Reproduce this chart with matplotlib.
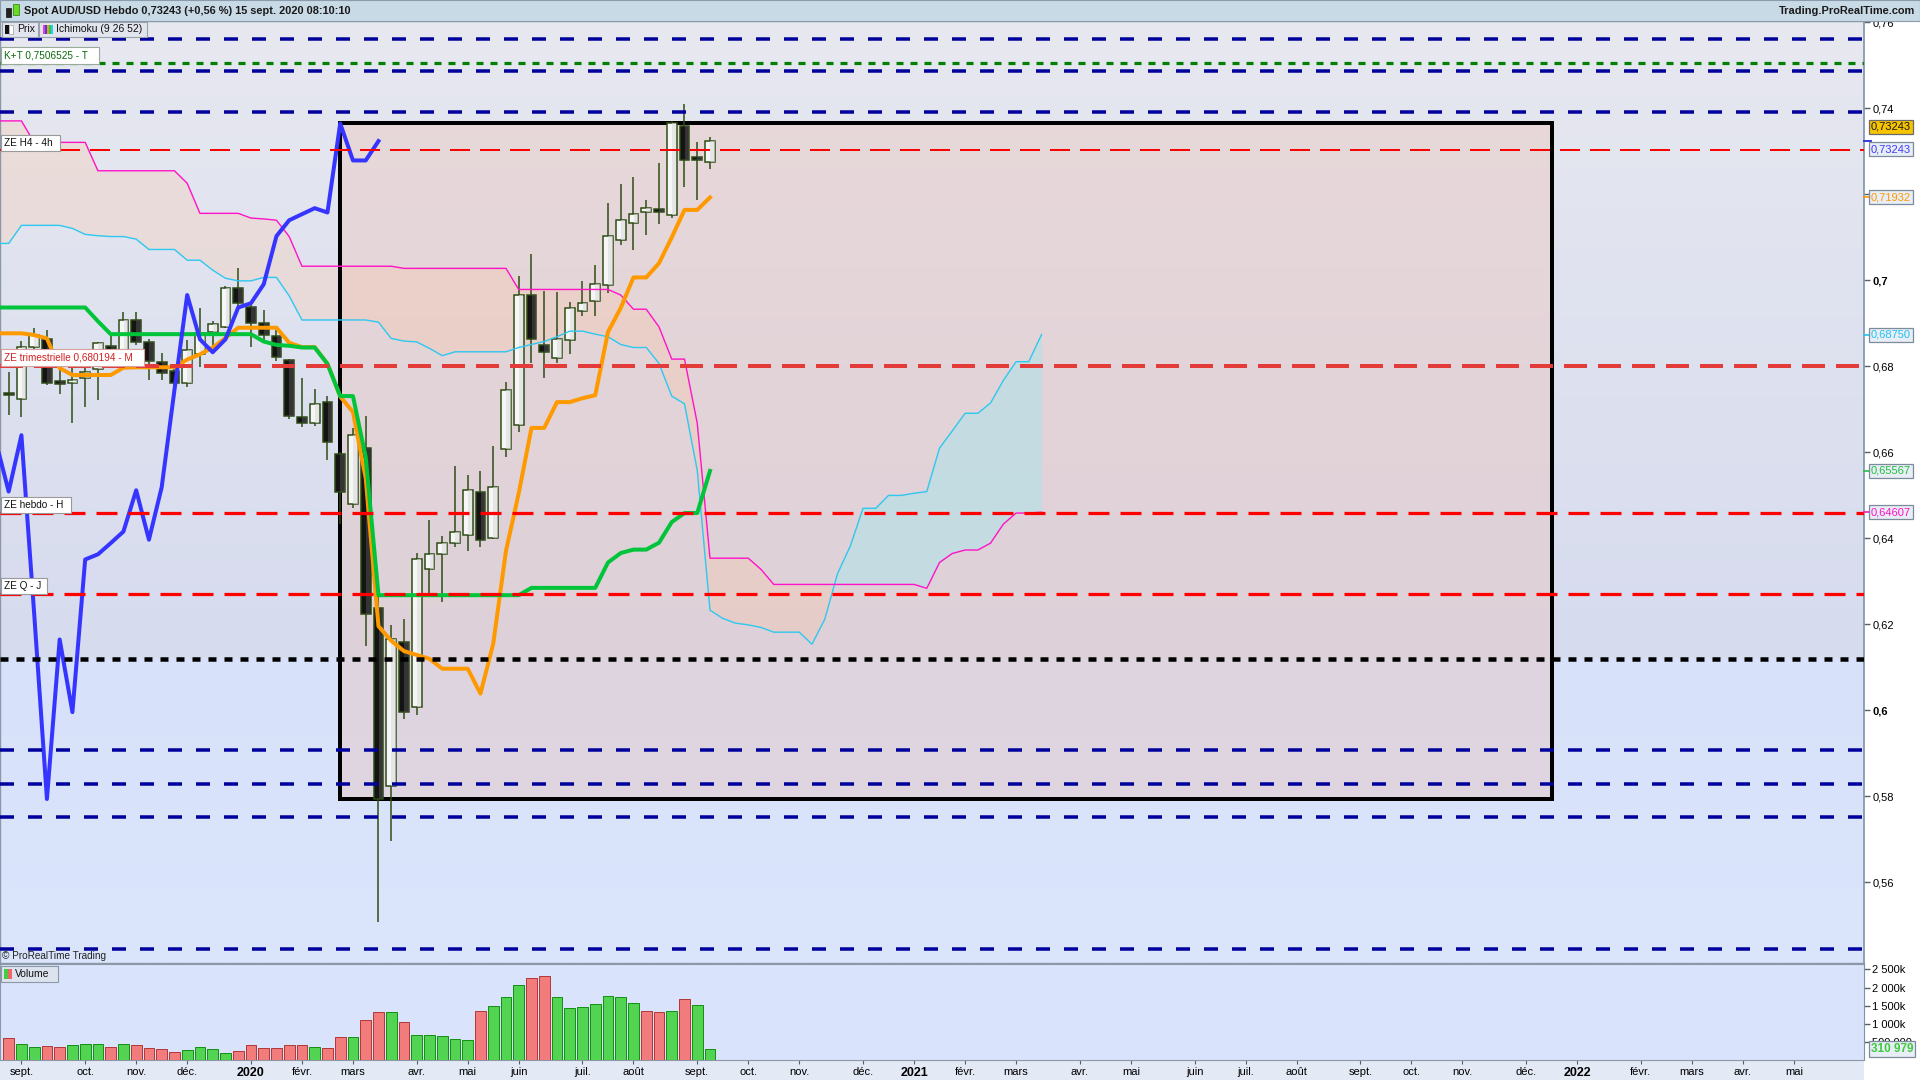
import numpy as np
import pandas as pd
import matplotlib
matplotlib.use('Agg')
import matplotlib.pyplot as plt
from matplotlib.patches import Rectangle
import matplotlib.transforms as mtransforms

plt.rcParams['font.family'] = ['Liberation Sans', 'DejaVu Sans']

# ---------------- DATA (weekly AUD/USD, week 0 = 26 Aug 2019) ----------------
open_ = [0.6738, 0.6724, 0.6845, 0.6863, 0.6765, 0.6762, 0.6772, 0.6793, 0.6847, 0.6817,
         0.6909, 0.6856, 0.6810, 0.6789, 0.6761, 0.6830, 0.6879, 0.6892, 0.6982, 0.6939,
         0.6900, 0.6871, 0.6815, 0.6682, 0.6669, 0.6717, 0.6596, 0.6479, 0.6610, 0.6239,
         0.5824, 0.6158, 0.6008, 0.6328, 0.6363, 0.6390, 0.6408, 0.6508, 0.6402, 0.6607,
         0.6663, 0.6965, 0.6849, 0.6819, 0.6861, 0.6928, 0.6951, 0.6989, 0.7093, 0.7133,
         0.7158, 0.7165, 0.7151, 0.7359, 0.7286, 0.7275]
high_ = [0.6788, 0.6860, 0.6890, 0.6885, 0.6799, 0.6808, 0.6803, 0.6857, 0.6870, 0.6927,
         0.6927, 0.6863, 0.6832, 0.6799, 0.6861, 0.6936, 0.6906, 0.6986, 0.7028, 0.6950,
         0.6931, 0.6885, 0.6817, 0.6772, 0.6747, 0.6731, 0.6602, 0.6656, 0.6685, 0.6306,
         0.6198, 0.6212, 0.6366, 0.6443, 0.6405, 0.6568, 0.6547, 0.6557, 0.6615, 0.6763,
         0.7010, 0.7061, 0.6975, 0.6973, 0.6950, 0.6999, 0.7036, 0.7180, 0.7224, 0.7240,
         0.7187, 0.7273, 0.7370, 0.7410, 0.7322, 0.7334]
low_ = [0.6687, 0.6683, 0.6836, 0.6757, 0.6737, 0.6668, 0.6706, 0.6722, 0.6800, 0.6810,
        0.6850, 0.6768, 0.6768, 0.6755, 0.6751, 0.6799, 0.6838, 0.6890, 0.6940, 0.6846,
        0.6861, 0.6813, 0.6678, 0.6660, 0.6662, 0.6582, 0.6434, 0.6470, 0.6150, 0.5508,
        0.5697, 0.5980, 0.5990, 0.6264, 0.6252, 0.6380, 0.6371, 0.6380, 0.6399, 0.6589,
        0.6647, 0.6807, 0.6774, 0.6807, 0.6830, 0.6918, 0.6918, 0.6970, 0.7083, 0.7071,
        0.7106, 0.7132, 0.7146, 0.7218, 0.7188, 0.7260]
close_ = [0.6733, 0.6846, 0.6873, 0.6762, 0.6760, 0.6768, 0.6788, 0.6854, 0.6817, 0.6909,
          0.6857, 0.6813, 0.6784, 0.6761, 0.6838, 0.6877, 0.6898, 0.6982, 0.6947, 0.6900,
          0.6873, 0.6823, 0.6685, 0.6669, 0.6713, 0.6625, 0.6509, 0.6640, 0.6225, 0.5794,
          0.6165, 0.5996, 0.6351, 0.6363, 0.6389, 0.6416, 0.6512, 0.6397, 0.6519, 0.6745,
          0.6966, 0.6863, 0.6833, 0.6863, 0.6937, 0.6947, 0.6991, 0.7103, 0.7140, 0.7154,
          0.7168, 0.7158, 0.7365, 0.7279, 0.7279, 0.7324]
volume_k = [604, 444, 364, 391, 364, 418, 444, 444, 364, 444,
            418, 338, 311, 231, 284, 364, 311, 204, 258, 418,
            338, 338, 418, 418, 364, 338, 631, 631, 1111, 1324,
            1324, 1057, 684, 684, 657, 578, 551, 1351, 1484, 1750,
            2070, 2257, 2310, 1750, 1430, 1457, 1537, 1777, 1750, 1564,
            1351, 1324, 1351, 1697, 1510, 310.979]
volume_up = [0, 1, 1, 0, 0, 1, 1, 1, 0, 1,
             0, 0, 0, 0, 1, 1, 1, 1, 0, 0,
             0, 0, 0, 0, 1, 0, 0, 1, 0, 0,
             1, 0, 1, 1, 1, 1, 1, 0, 1, 1,
             1, 0, 0, 1, 1, 1, 1, 1, 1, 1,
             0, 0, 1, 0, 1, 1]

# Ichimoku (9 26 52) - weeks -1..55
tenkan = [0.6877, 0.6877, 0.6877, 0.6873, 0.6865, 0.6796, 0.6780, 0.6780, 0.6780, 0.6780,
          0.6797, 0.6798, 0.6798, 0.6798, 0.6798, 0.6816, 0.6828, 0.6844, 0.6866, 0.6890,
          0.6890, 0.6890, 0.6890, 0.6855, 0.6845, 0.6845, 0.6806, 0.6730, 0.6694, 0.6540,
          0.6196, 0.6162, 0.6138, 0.6129, 0.6120, 0.6097, 0.6097, 0.6097, 0.6039, 0.6155,
          0.6371, 0.6505, 0.6657, 0.6657, 0.6717, 0.6717, 0.6726, 0.6733, 0.6880, 0.6936,
          0.7007, 0.7007, 0.7040, 0.7100, 0.7164, 0.7164, 0.7193]
kijun = [0.6937, 0.6937, 0.6937, 0.6937, 0.6937, 0.6937, 0.6937, 0.6937, 0.6905, 0.6875,
         0.6875, 0.6875, 0.6875, 0.6875, 0.6875, 0.6875, 0.6875, 0.6875, 0.6875, 0.6875,
         0.6875, 0.6858, 0.6850, 0.6848, 0.6844, 0.6844, 0.6806, 0.6731, 0.6731, 0.6589,
         0.6268, 0.6268, 0.6268, 0.6268, 0.6268, 0.6268, 0.6268, 0.6268, 0.6268, 0.6268,
         0.6268, 0.6268, 0.6285, 0.6285, 0.6285, 0.6285, 0.6285, 0.6285, 0.6344, 0.6366,
         0.6374, 0.6374, 0.6390, 0.6438, 0.6459, 0.6459, 0.6557]
# Senkou spans, plotted positions -1..81
senkou_a = [0.7086, 0.7086, 0.7128, 0.7128, 0.7128, 0.7128, 0.7121, 0.7107, 0.7104, 0.7102,
            0.7102, 0.7096, 0.7072, 0.7072, 0.7072, 0.7047, 0.7047, 0.7024, 0.7005, 0.6999,
            0.6999, 0.7007, 0.7007, 0.6964, 0.6908, 0.6908, 0.6908, 0.6908, 0.6908, 0.6908,
            0.6903, 0.6865, 0.6859, 0.6857, 0.6842, 0.6825, 0.6834, 0.6834, 0.6834, 0.6834,
            0.6834, 0.6844, 0.6851, 0.6858, 0.6869, 0.6882, 0.6882, 0.6875, 0.6869, 0.6851,
            0.6844, 0.6844, 0.6807, 0.6731, 0.6713, 0.6558, 0.6233, 0.6214, 0.6203, 0.6199,
            0.6193, 0.6182, 0.6182, 0.6182, 0.6154, 0.6212, 0.6318, 0.6382, 0.6470, 0.6470,
            0.6500, 0.6500, 0.6505, 0.6509, 0.6610, 0.6650, 0.6691, 0.6691, 0.6715, 0.6767,
            0.6811, 0.6811, 0.6874]
senkou_b = [0.7371, 0.7371, 0.7371, 0.7321, 0.7321, 0.7321, 0.7321, 0.7321, 0.7255, 0.7255,
            0.7255, 0.7255, 0.7255, 0.7255, 0.7255, 0.7226, 0.7156, 0.7156, 0.7156, 0.7156,
            0.7145, 0.7143, 0.7140, 0.7102, 0.7033, 0.7033, 0.7033, 0.7033, 0.7033, 0.7033,
            0.7033, 0.7033, 0.7028, 0.7028, 0.7028, 0.7028, 0.7028, 0.7028, 0.7028, 0.7028,
            0.7028, 0.6979, 0.6979, 0.6979, 0.6979, 0.6979, 0.6979, 0.6979, 0.6979, 0.6966,
            0.6933, 0.6933, 0.6892, 0.6817, 0.6817, 0.6668, 0.6354, 0.6354, 0.6354, 0.6354,
            0.6328, 0.6293, 0.6293, 0.6293, 0.6293, 0.6293, 0.6293, 0.6293, 0.6293, 0.6293,
            0.6293, 0.6293, 0.6293, 0.6284, 0.6344, 0.6365, 0.6373, 0.6373, 0.6389, 0.6433,
            0.6459, 0.6459, 0.6461]

# Horizontal levels
blue_levels = [0.7561, 0.7487, 0.7392, 0.5908, 0.5828, 0.5752, 0.5445]
kt_level = 0.7506525
ze_h4 = 0.7303
ze_trim = 0.680194
ze_hebdo = 0.6459
ze_q = 0.6270
black_level = 0.6120
zone_box = (26, 121, 0.5794, 0.7365)  # x0, x1, y0, y1

first_week = '2019-08-26'
months_fr = ['janv.', 'févr.', 'mars', 'avr.', 'mai', 'juin', 'juil.', 'août',
             'sept.', 'oct.', 'nov.', 'déc.']

# ---------------- FIGURE ----------------
W, H = 1920, 1080
fig = plt.figure(figsize=(19.2, 10.8), dpi=100, facecolor='white')

def fy(py):
    return 1 - py / H

PANEL_R = 1864
ax = fig.add_axes([0, fy(963), PANEL_R / W, (963 - 21) / H])
axv = fig.add_axes([0, fy(1060), PANEL_R / W, (1060 - 964) / H], sharex=ax)

XMIN, XMAX = -0.68, 145.5
YMIN, YMAX = 0.54126, 0.76033

def dash(on_px, off_px, lw_px):
    return (0, (on_px / lw_px, off_px / lw_px))

PX = 0.72  # points per pixel

# background gradients
ax.set_facecolor('#d9e3fb')
top_c = np.array([0xe7, 0xe8, 0xf0]) / 255
mid_c = np.array([0xd6, 0xdb, 0xee]) / 255
g = np.linspace(0, 1, 200)[:, None]
grad = (top_c[None, :] * (1 - g) + mid_c[None, :] * g)[:, None, :]
ax.imshow(grad, extent=(XMIN, XMAX, black_level, YMAX), aspect='auto', zorder=0,
          interpolation='bilinear')
low_top = np.array([0xd7, 0xe1, 0xf9]) / 255
low_bot = np.array([0xdb, 0xe5, 0xfc]) / 255
grad2 = (low_top[None, :] * (1 - g) + low_bot[None, :] * g)[:, None, :]
ax.imshow(grad2, extent=(XMIN, XMAX, YMIN, black_level), aspect='auto', zorder=0,
          interpolation='bilinear')

# zone box fill
bx0, bx1, by0, by1 = zone_box
ax.add_patch(Rectangle((bx0, by0), bx1 - bx0, by1 - by0, facecolor='#f0b8a8', alpha=0.30,
                       edgecolor='none', zorder=1))

# cloud
jx = np.arange(-1, -1 + len(senkou_a))
sa = np.array(senkou_a)
sb = np.array(senkou_b)
ax.fill_between(jx, sa, sb, where=sb >= sa, interpolate=True, color='#ffc49a', alpha=0.25,
                lw=0, zorder=2)
ax.fill_between(jx, sa, sb, where=sa > sb, interpolate=True, color='#a8e6ea', alpha=0.5,
                lw=0, zorder=2)

# zone box outline
ax.add_patch(Rectangle((bx0, by0), bx1 - bx0, by1 - by0, fill=False, edgecolor='black',
                       lw=4 * PX, zorder=3))

# candles
o = np.array(open_); c = np.array(close_); hi = np.array(high_); lo = np.array(low_)
x = np.arange(len(c))
up = c >= o
bb = np.minimum(o, c)
bh = np.maximum(np.abs(c - o), 0.0004)
edge = '#2b4a12'
ax.vlines(x, lo, hi, color=edge, lw=1.5 * PX, zorder=4)
ax.bar(x[up], bh[up], bottom=bb[up], width=0.76, color='#f6f6f6', edgecolor=edge,
       lw=1.5 * PX, zorder=5)
ax.bar(x[~up], bh[~up], bottom=bb[~up], width=0.76, color='#141414', edgecolor=edge,
       lw=1.5 * PX, zorder=5)
# subtle shading on the right half of bodies (gradient look)
ax.bar(x[up] + 0.19, bh[up], bottom=bb[up], width=0.36, color='#dcdcdc', alpha=0.6,
       lw=0, zorder=5.5)
ax.bar(x[~up] + 0.19, bh[~up], bottom=bb[~up], width=0.36, color='#4a4a4a', alpha=0.6,
       lw=0, zorder=5.5)

# senkou lines
ax.plot(jx, sa, color='#2ec8f0', lw=1.4 * PX, zorder=6)
ax.plot(jx, sb, color='#ff14c8', lw=1.4 * PX, zorder=6)
# tenkan / kijun
tx = np.arange(-1, -1 + len(tenkan))
ax.plot(tx, tenkan, color='#ff9900', lw=4 * PX, zorder=7, solid_joinstyle='round')
ax.plot(tx, kijun, color='#00c43a', lw=4 * PX, zorder=7, solid_joinstyle='round')
# chikou: closes shifted 26 weeks back
cx = np.arange(25, len(c)) - 26
ax.plot(cx, c[25:], color='#3535ff', lw=4 * PX, zorder=8, solid_joinstyle='round')

# horizontal levels
for lv in blue_levels:
    ax.axhline(lv, color='#00009c', lw=3.5 * PX, linestyle=dash(14, 14, 3.5), zorder=9)
ax.axhline(kt_level, color='#008000', lw=3.2 * PX, linestyle=dash(7, 7, 3.2), zorder=9)
ax.axhline(ze_h4, color='#ff0000', lw=2 * PX, linestyle=dash(20, 10, 2), zorder=9)
ax.axhline(ze_trim, color='#e33a3a', lw=4 * PX, linestyle=dash(23, 11, 4), zorder=9)
ax.axhline(ze_hebdo, color='#ff0000', lw=3.2 * PX, linestyle=dash(21, 11, 3.2), zorder=9)
ax.axhline(ze_q, color='#ff0000', lw=3.2 * PX, linestyle=dash(21, 11, 3.2), zorder=9)
ax.axhline(black_level, color='black', lw=4.5 * PX, linestyle=dash(8, 8, 4.5), zorder=9)

ax.set_xlim(XMIN, XMAX)
ax.set_ylim(YMIN, YMAX)

# right axis ticks
ax.yaxis.tick_right()
yt = [0.56, 0.58, 0.60, 0.62, 0.64, 0.66, 0.68, 0.70, 0.72, 0.74, 0.76]
ylab = ['0,56', '0,58', '0,6', '0,62', '0,64', '0,66', '0,68', '0,7', '', '0,74', '0,76']
ax.set_yticks(yt)
ax.set_yticklabels(ylab, fontsize=8)
for t in ax.get_yticklabels():
    if t.get_text() in ('0,7', '0,6'):
        t.set_fontweight('bold')
ax.tick_params(axis='y', direction='out', length=4, width=1, color='#55606a', pad=2)
ax.tick_params(axis='x', bottom=False, labelbottom=False)
for s in ['top', 'left', 'bottom']:
    ax.spines[s].set_color('#8a98a8')
    ax.spines[s].set_linewidth(1.0)
ax.spines['right'].set_color('#7f93a6')
ax.spines['right'].set_linewidth(1.2)

# right value labels
trans = mtransforms.blended_transform_factory(ax.transAxes, ax.transData)

def rlabel(val, text, color, fc='#e8edf6', ec='#7d8c9c', dy=0, weight='normal'):
    ax.plot([1.0, 1.0035], [val, val], transform=trans, color=color,
            lw=1.2, clip_on=False, zorder=20)
    ax.annotate(text, xy=(1.0038, val), xycoords=trans, xytext=(0, dy), textcoords='offset points',
                color=color, fontsize=8, va='center', ha='left', fontweight=weight,
                bbox=dict(boxstyle='square,pad=0.18', fc=fc, ec=ec, lw=0.9),
                annotation_clip=False, zorder=21)

rlabel(close_[-1], '0,73243', '#1a1a1a', fc='#f7c400', ec='#6a6a6a', dy=10.5)
rlabel(close_[-1], '0,73243', '#3d3dff', dy=-6)
rlabel(tenkan[-1], '0,71932', '#ff9900')
rlabel(senkou_a[-1], '0,68750', '#1ec4f0')
rlabel(kijun[-1], '0,65567', '#22c040')
rlabel(senkou_b[-1], '0,64607', '#ff10c8')

# ---------------- VOLUME ----------------
axv.set_facecolor('#d9e3fb')
vup = np.array(volume_up) == 1
vcol = np.where(vup, '#52d452', '#f27b7b')
vedge = np.where(vup, '#179017', '#b43a3a')
axv.bar(x, volume_k, width=0.84, color=vcol, edgecolor=vedge, lw=1.0 * PX, zorder=3)
axv.set_ylim(0, 2650)
axv.yaxis.tick_right()
axv.set_yticks([500, 1000, 1500, 2000, 2500])
axv.set_yticklabels(['500 000', '1 000k', '1 500k', '2 000k', '2 500k'], fontsize=8)
axv.tick_params(axis='y', direction='out', length=4, width=1, color='#55606a', pad=2)
for s in axv.spines.values():
    s.set_color('#8a98a8')
axv.spines['right'].set_color('#7f93a6')
transv = mtransforms.blended_transform_factory(axv.transAxes, axv.transData)
axv.annotate('310 979', xy=(1.0038, volume_k[-1]), xycoords=transv, color='#3ccc3c',
             fontsize=8.5, fontweight='bold', va='center', ha='left',
             bbox=dict(boxstyle='square,pad=0.15', fc='#e8edf6', ec='#7d8c9c', lw=0.9),
             annotation_clip=False, zorder=21)

# x ticks: first week of each month
wk = np.arange(-1, 146)
dts = pd.Timestamp(first_week) + pd.to_timedelta(7 * wk, unit='D')
tpos, tlab, tbold = [], [], []
for k in range(1, len(wk)):
    if dts[k].month != dts[k - 1].month and wk[k] < 144.5:
        tpos.append(wk[k])
        if dts[k].month == 1:
            tlab.append(str(dts[k].year)); tbold.append(True)
        else:
            tlab.append(months_fr[dts[k].month - 1]); tbold.append(False)
axv.set_xticks(tpos)
axv.set_xticklabels(tlab, fontsize=8)
for t, b in zip(axv.get_xticklabels(), tbold):
    if b:
        t.set_fontweight('bold')
        t.set_fontsize(9)
axv.tick_params(axis='x', direction='out', length=3, color='#55606a', pad=2)
axv.set_xlim(XMIN, XMAX)

# ---------------- DECORATIONS (figure level) ----------------
def frect(x0, y0, x1, y1, fc, ec='none', lw=0.8, z=30):
    fig.patches.append(Rectangle((x0 / W, fy(y1)), (x1 - x0) / W, (y1 - y0) / H,
                                 transform=fig.transFigure, facecolor=fc, edgecolor=ec,
                                 lw=lw, zorder=z))

def ftext(xp, yp, s, color='black', fs=7.5, weight='normal', ha='left', z=31):
    fig.text(xp / W, fy(yp), s, color=color, fontsize=fs, fontweight=weight,
             ha=ha, va='center', zorder=z)

# bottom strip behind x labels
frect(0, 1060, PANEL_R, 1080, '#e3e9f5', z=-1)

# header
frect(0, 0, W, 21, '#c8dae6', ec='#8a9cac', lw=0.8, z=30)
frect(6, 8, 11, 17, '#222222', ec='#111111', lw=0.5, z=31)
frect(13, 4, 19, 15, '#66dd22', ec='#337711', lw=0.5, z=31)
ftext(24, 10.5, 'Spot AUD/USD Hebdo 0,73243 (+0,56 %) 15 sept. 2020 08:10:10', '#1a1a1a',
      fs=7.9, weight='bold')
ftext(1915, 10.5, 'Trading.ProRealTime.com', '#1a1a1a', fs=7.9, weight='bold', ha='right')

# legend boxes
frect(2, 22, 38, 37, '#e2e5ee', ec='#9aa3ad')
frect(5, 25, 9, 34, '#111111', z=31)
frect(9, 25, 13, 34, '#ffffff', ec='#888888', lw=0.4, z=31)
ftext(17, 29.5, 'Prix', '#111111', fs=7.5)
frect(39, 22, 147, 37, '#e2e5ee', ec='#9aa3ad')
for k, col in enumerate(['#ff33cc', '#3344ff', '#ff9900', '#22cc44', '#22ccff']):
    frect(43 + 2 * k, 25, 45 + 2 * k, 34, col, z=31)
ftext(56, 29.5, 'Ichimoku (9 26 52)', '#111111', fs=7.5)

# level labels
frect(1, 47, 99, 64, 'white', ec='#9aaa9a')
ftext(4, 55.5, 'K+T 0,7506525 - T', '#0c6a0c', fs=7.2)
frect(1, 135, 60, 151, 'white', ec='#9a9a9a')
ftext(4, 143, 'ZE H4 - 4h', '#111111', fs=7.2)
frect(1, 349, 144, 366, 'white', ec='#d7a0a0')
ftext(4, 357.5, 'ZE trimestrielle 0,680194 - M', '#d02020', fs=7.2)
frect(1, 497, 71, 513, 'white', ec='#9a9a9a')
ftext(4, 505, 'ZE hebdo - H', '#111111', fs=7.2)
frect(1, 578, 47, 594, 'white', ec='#9a9a9a')
ftext(4, 586, 'ZE Q - J', '#111111', fs=7.2)

ftext(2, 956, '© ProRealTime Trading', '#222222', fs=7.2)

frect(1, 966, 58, 982, '#dde3ee', ec='#8a98a8')
frect(4, 969, 8, 979, '#44cc44', z=31)
frect(8, 969, 12, 979, '#ee6666', z=31)
ftext(15, 974, 'Volume', '#111111', fs=7.5)

fig.savefig('out.png', dpi=100, facecolor='white')
